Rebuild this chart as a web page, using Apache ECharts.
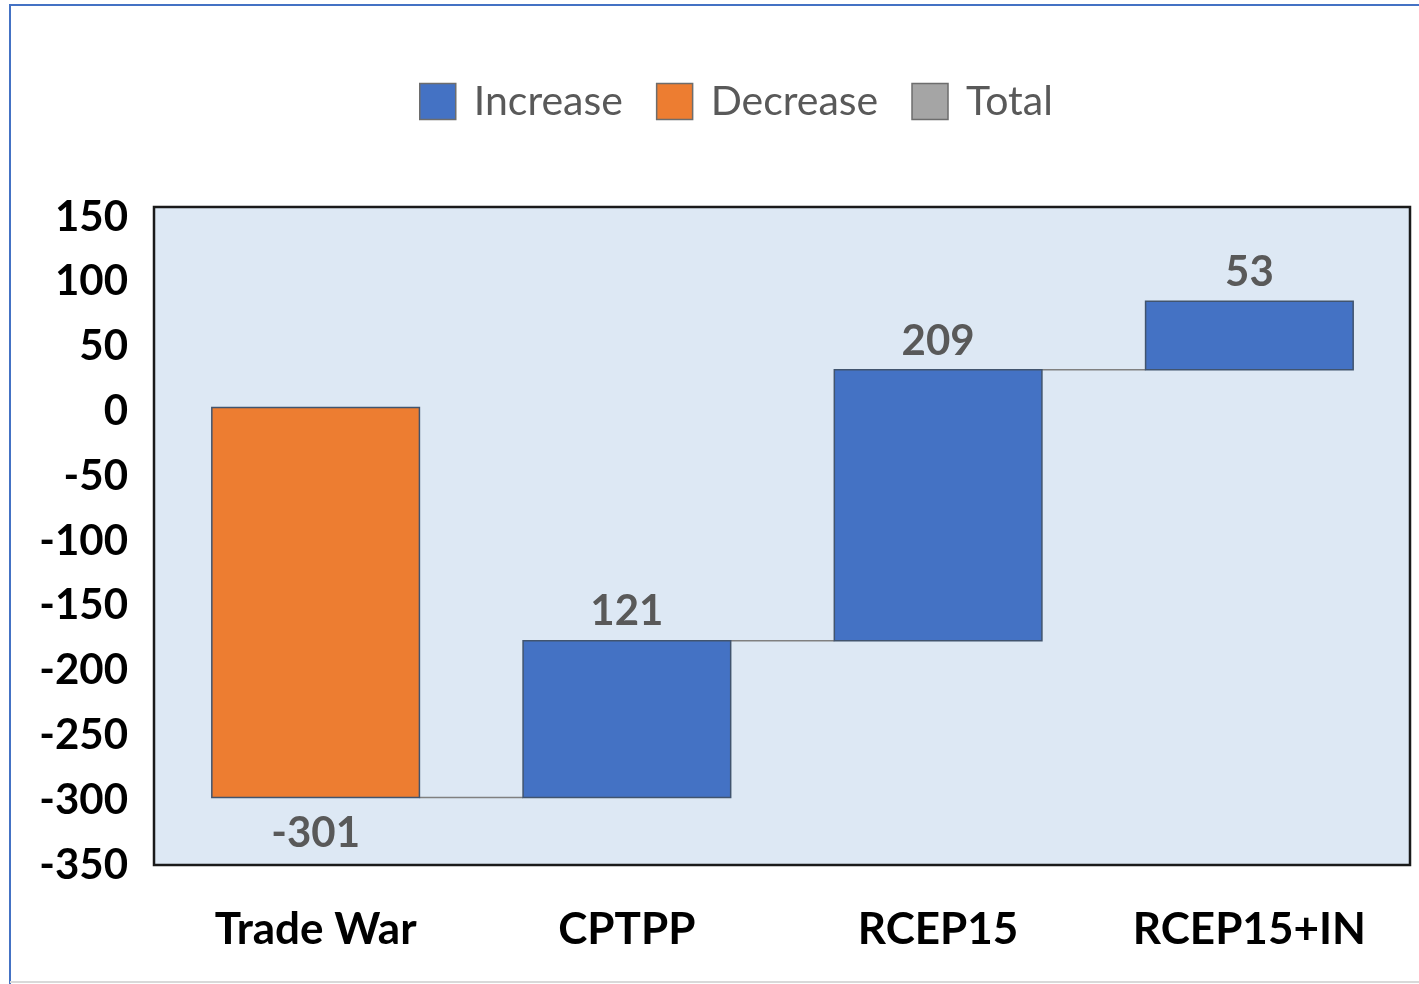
<!DOCTYPE html>
<html>
<head>
<meta charset="utf-8">
<script src="https://cdn.jsdelivr.net/npm/echarts@6/dist/echarts.min.js"></script>
<style>
  html, body { margin: 0; padding: 0; background: #fff; }
  #chart { width: 1419px; height: 984px; }
</style>
</head>
<body>
<div id="chart"></div>
<script>
// waterfall data
const categories = ['Trade War', 'CPTPP', 'RCEP15', 'RCEP15+IN']
const changes = [-301, 121, 209, 53]
const yTicks = { min: -350, max: 150, step: 50 }

const FONT = 'Lato, "Open Sans", sans-serif'
const BLUE = '#4472c4'
const ORANGE = '#ed7d31'
const GRAY = '#a5a5a5'
const BAR_RATIO = 0.667

// running start / end of each step
const starts = []
const ends = []
let run = 0
changes.forEach(function (d) {
  starts.push(run)
  run += d
  ends.push(run)
})

const incData = []
const decData = []
changes.forEach(function (d, i) {
  const row = [i, starts[i], ends[i], d]
  if (d >= 0) incData.push(row)
  else decData.push(row)
})
const connData = ends.slice(0, -1).map(function (v, i) { return [i, v] })

function renderBar(color) {
  return function (params, api) {
    const i = api.value(0)
    const d = api.value(3)
    const p0 = api.coord([i, api.value(1)])
    const p1 = api.coord([i, api.value(2)])
    const w = api.size([1, 0])[0] * BAR_RATIO
    return {
      type: 'rect',
      shape: {
        x: p0[0] - w / 2,
        y: Math.min(p0[1], p1[1]),
        width: w,
        height: Math.abs(p1[1] - p0[1])
      },
      style: { fill: color, stroke: '#41546e', lineWidth: 1.5 },
      textContent: {
        style: {
          text: String(d),
          fill: '#595959',
          font: 'bold 42px ' + FONT
        }
      },
      textConfig: {
        position: d < 0 ? 'bottom' : 'top',
        distance: d < 0 ? 14 : 7
      }
    }
  }
}

function renderConnector(params, api) {
  const i = api.value(0)
  const lvl = api.value(1)
  const a = api.coord([i, lvl])
  const b = api.coord([i + 1, lvl])
  const w = api.size([1, 0])[0] * BAR_RATIO
  return {
    type: 'line',
    shape: { x1: a[0] + w / 2, y1: a[1], x2: b[0] - w / 2, y2: b[1] },
    style: { stroke: '#808080', lineWidth: 1.5 }
  }
}

const chart = echarts.init(document.getElementById('chart'))

chart.setOption({
  animation: false,
  backgroundColor: '#ffffff',
  graphic: [
    {
      type: 'rect',
      z: -10,
      shape: { x: 154, y: 207, width: 1256, height: 658 },
      style: { fill: '#dde8f4', stroke: '#1a1a1a', lineWidth: 2.5 }
    },
    {
      type: 'polyline',
      z: -10,
      shape: { points: [[10, 984], [10, 5], [1419, 5]] },
      style: { stroke: BLUE, lineWidth: 2, fill: null }
    },
    {
      type: 'line',
      z: -10,
      shape: { x1: 10, y1: 982, x2: 1419, y2: 982 },
      style: { stroke: '#d9d9d9', lineWidth: 2 }
    }
  ],
  legend: {
    top: 76,
    left: 414,
    itemWidth: 36,
    itemHeight: 36,
    itemGap: 33,
    icon: 'rect',
    data: ['Increase', 'Decrease', 'Total'],
    itemStyle: { borderColor: '#6d6d6d', borderWidth: 1.5 },
    textStyle: {
      fontFamily: FONT,
      fontSize: 41,
      color: '#595959',
      padding: [0, 0, 0, 13]
    }
  },
  grid: {
    left: 160,
    right: 14,
    top: 213,
    bottom: 123,
    containLabel: false
  },
  xAxis: {
    type: 'category',
    data: categories,
    axisLine: { show: false },
    axisTick: { show: false },
    axisLabel: {
      margin: 47,
      fontFamily: FONT,
      fontWeight: 'bold',
      fontSize: 44,
      color: '#000'
    }
  },
  yAxis: {
    type: 'value',
    min: yTicks.min,
    max: yTicks.max,
    interval: yTicks.step,
    splitLine: { show: false },
    axisLine: { show: false },
    axisTick: { show: false },
    axisLabel: {
      margin: 32,
      formatter: '{v|{value}}',
      rich: {
        v: {
          padding: [8, 0, 0, 0],
          fontFamily: FONT,
          fontWeight: 'bold',
          fontSize: 42,
          color: '#000'
        }
      }
    }
  },
  series: [
    {
      name: 'Increase',
      type: 'custom',
      itemStyle: { color: BLUE },
      renderItem: renderBar(BLUE),
      encode: { x: 0, y: [1, 2] },
      data: incData,
      z: 3
    },
    {
      name: 'Decrease',
      type: 'custom',
      itemStyle: { color: ORANGE },
      renderItem: renderBar(ORANGE),
      encode: { x: 0, y: [1, 2] },
      data: decData,
      z: 3
    },
    {
      name: 'Total',
      type: 'custom',
      itemStyle: { color: GRAY },
      renderItem: renderBar(GRAY),
      data: []
    },
    {
      name: 'connector',
      type: 'custom',
      renderItem: renderConnector,
      encode: { x: 0, y: 1 },
      data: connData,
      z: 2
    }
  ]
})
</script>
</body>
</html>
